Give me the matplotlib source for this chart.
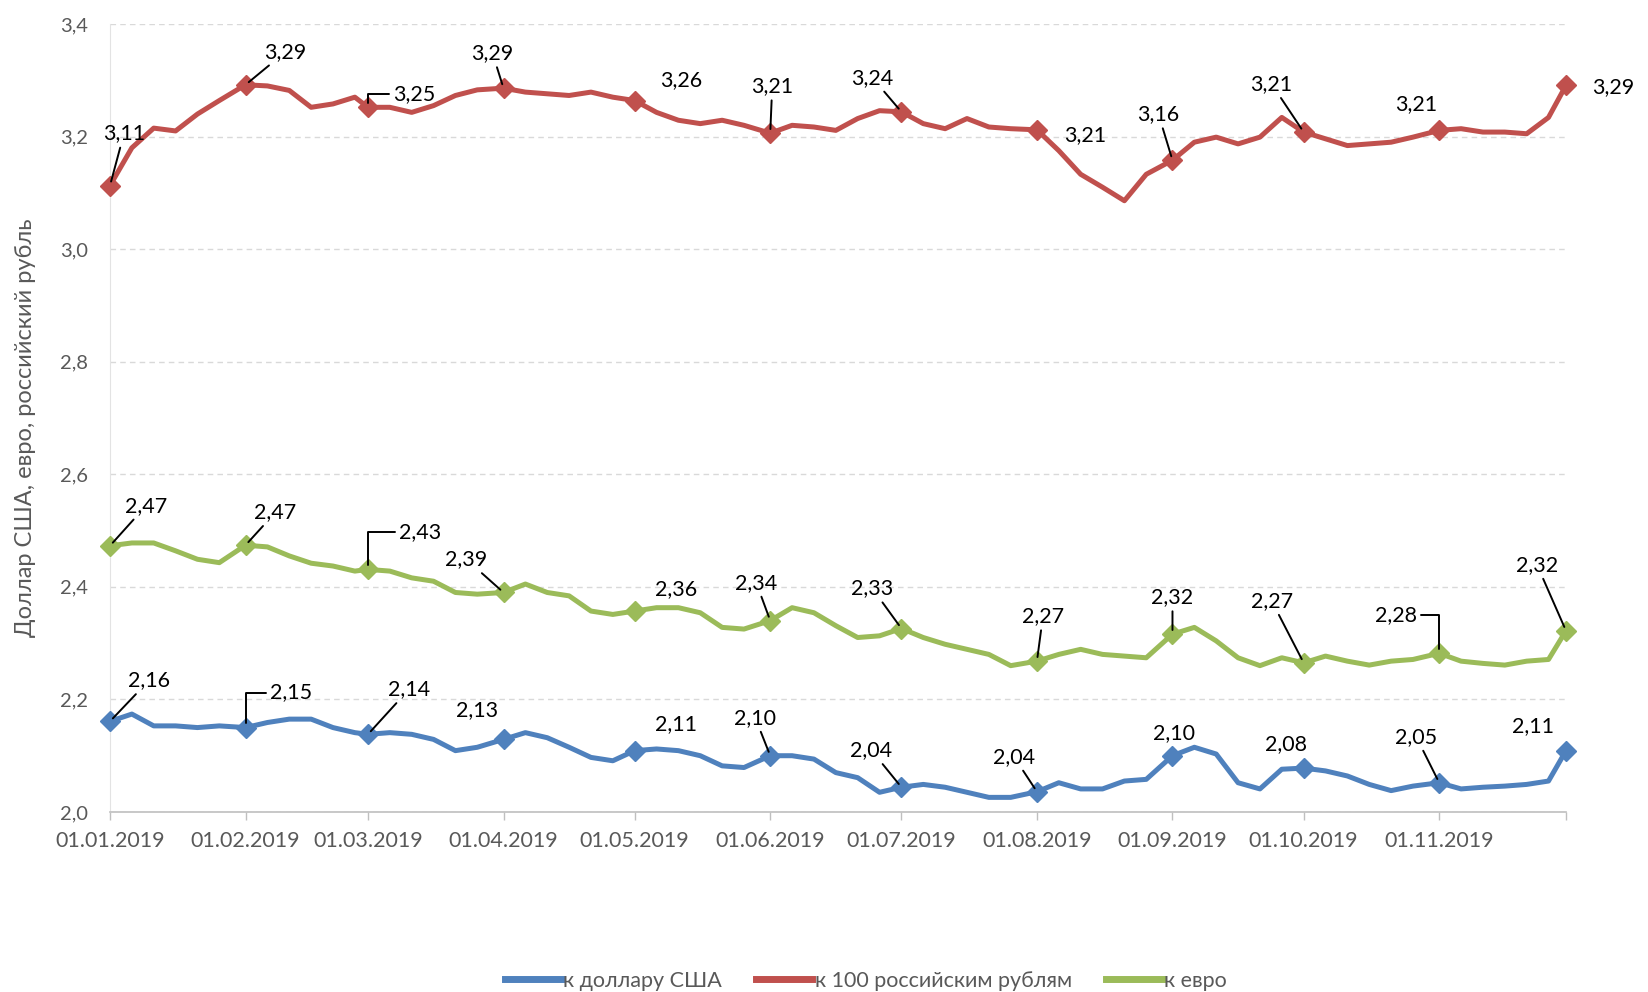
import datetime as dt
import matplotlib
matplotlib.use("Agg")
import matplotlib.pyplot as plt
import matplotlib.dates as mdates
from matplotlib.ticker import FuncFormatter

plt.rcParams['font.family'] = ['Lato', 'DejaVu Sans']

# sample days within each month (Jan..Nov 2019) plus the last day
months = list(range(1, 12))
sample_days = [1, 6, 11, 16, 21, 26]
dates = [dt.date(2019, m, d) for m in months for d in sample_days] + [dt.date(2019, 11, 30)]

usd = [2.161, 2.174, 2.153, 2.153, 2.150, 2.153,
       2.150, 2.159, 2.165, 2.165, 2.150, 2.141,
       2.138, 2.141, 2.138, 2.129, 2.109, 2.115,
       2.129, 2.141, 2.132, 2.115, 2.097, 2.091,
       2.109, 2.112, 2.109, 2.100, 2.082, 2.079,
       2.100, 2.100, 2.094, 2.070, 2.061, 2.035,
       2.044, 2.049, 2.044, 2.035, 2.026, 2.026,
       2.036, 2.052, 2.041, 2.041, 2.055, 2.058,
       2.100, 2.115, 2.103, 2.052, 2.041, 2.076,
       2.078, 2.073, 2.064, 2.049, 2.038, 2.046,
       2.052, 2.041, 2.044, 2.046, 2.049, 2.055,
       2.109]

rub100 = [3.113, 3.180, 3.215, 3.210, 3.240, 3.264,
          3.292, 3.290, 3.282, 3.252, 3.258, 3.270,
          3.252, 3.252, 3.243, 3.255, 3.273, 3.283,
          3.286, 3.279, 3.276, 3.273, 3.279, 3.270,
          3.264, 3.243, 3.229, 3.223, 3.229, 3.220,
          3.206, 3.220, 3.217, 3.211, 3.232, 3.246,
          3.244, 3.223, 3.214, 3.232, 3.217, 3.214,
          3.212, 3.175, 3.133, 3.110, 3.086, 3.133,
          3.158, 3.190, 3.199, 3.187, 3.199, 3.234,
          3.208, 3.196, 3.184, 3.187, 3.190, 3.199,
          3.211, 3.214, 3.208, 3.208, 3.205, 3.234,
          3.291]

eur = [2.473, 2.478, 2.478, 2.464, 2.449, 2.443,
       2.474, 2.471, 2.455, 2.442, 2.437, 2.428,
       2.431, 2.428, 2.416, 2.410, 2.390, 2.387,
       2.390, 2.405, 2.390, 2.384, 2.357, 2.351,
       2.357, 2.363, 2.363, 2.354, 2.328, 2.325,
       2.340, 2.363, 2.354, 2.331, 2.310, 2.313,
       2.326, 2.310, 2.298, 2.289, 2.280, 2.260,
       2.268, 2.280, 2.289, 2.280, 2.277, 2.274,
       2.316, 2.328, 2.304, 2.274, 2.260, 2.274,
       2.265, 2.277, 2.268, 2.261, 2.268, 2.271,
       2.282, 2.268, 2.264, 2.261, 2.268, 2.271,
       2.322]

series_names = ['к доллару США', 'к 100 российским рублям', 'к евро']
colors = ['#4F81BD', '#C0504D', '#9BBB59']
tick_dates = [dt.date(2019, m, 1) for m in months]
marker_idx = [i * len(sample_days) for i in range(len(months))] + [len(dates) - 1]

# label offsets in pixels (dx, dy with dy up) and leader style per marker
usd_labels = [(39, 41, 's'), (46, 35, 'e'), (41, 45, 's'), (-26, 29, None),
              (41, 27, None), (-15, 38, 's'), (-30, 37, 's'), (-23, 35, 's'),
              (2, 23, None), (-18, 24, None), (-23, 46, 's'), (-33, 25, None)]
rub_labels = [(14, 52, 's'), (40, 33, 's'), (46, 13, 'e'), (-11, 35, 's'),
              (46, 20, None), (2, 47, 's'), (-29, 34, 's'), (48, -5, None),
              (-14, 46, 's'), (-32, 48, 's'), (-23, 26, None), (47, -2, None)]
eur_labels = [(36, 40, 's'), (30, 33, 's'), (52, 37, 'e'), (-37, 33, 's'),
              (41, 22, None), (-14, 38, 's'), (-29, 40, 's'), (6, 45, 's'),
              (0, 37, 's'), (-32, 62, 's'), (-43, 38, 'e'), (-29, 66, 's')]


def comma(v, pos=None):
    return f'{v:.1f}'.replace('.', ',')


def main():
    fig = plt.figure(figsize=(16.48, 9.92), dpi=100)
    ax = fig.add_axes([110 / 1648, 1 - 812 / 992, (1566 - 110) / 1648, (812 - 24) / 992])

    all_series = [usd, rub100, eur]
    all_labels = [usd_labels, rub_labels, eur_labels]
    for vals, name, col, labs in zip(all_series, series_names, colors, all_labels):
        ax.plot(dates, vals, color=col, lw=3.6, label=name, solid_joinstyle='round',
                zorder=3, clip_on=False)
        mx = [dates[i] for i in marker_idx]
        my = [vals[i] for i in marker_idx]
        ax.plot(mx, my, ls='none', marker='D', ms=10, color=col, zorder=4, clip_on=False)
        for x, y, (dx, dy, style) in zip(mx, my, labs):
            txt = f'{y:.2f}'.replace('.', ',')
            kw = {}
            if style == 's':
                kw['arrowprops'] = dict(arrowstyle='-', color='black', lw=1.4,
                                        shrinkA=1, shrinkB=3)
            elif style == 'e':
                kw['arrowprops'] = dict(arrowstyle='-', color='black', lw=1.4,
                                        shrinkA=1, shrinkB=3,
                                        connectionstyle='angle,angleA=0,angleB=90,rad=0')
            ax.annotate(txt, xy=(x, y), xytext=(dx, dy), textcoords='offset pixels',
                        ha='center', va='center', fontsize=15.5, color='black', zorder=5, **kw)

    ax.set_ylim(2.0, 3.4)
    ax.set_yticks([2.0, 2.2, 2.4, 2.6, 2.8, 3.0, 3.2, 3.4])
    ax.yaxis.set_major_formatter(FuncFormatter(comma))
    ax.set_xlim(dates[0], dates[-1])
    ax.set_xticks(tick_dates)
    ax.xaxis.set_major_formatter(mdates.DateFormatter('%d.%m.%Y'))
    ax.set_xticks([dates[-1]], minor=True)

    ax.grid(axis='y', color='#D9D9D9', ls=(0, (4, 3)), lw=1.0, zorder=0)
    ax.tick_params(axis='y', length=0, pad=16, labelsize=14.5, labelcolor='#595959')
    ax.tick_params(axis='x', which='both', length=6, width=1, color='#BFBFBF',
                   pad=8, labelsize=15.5, labelcolor='#595959')
    for s in ['top', 'right']:
        ax.spines[s].set_visible(False)
    ax.spines['bottom'].set_color('#BFBFBF')
    ax.spines['bottom'].set_linewidth(1.2)
    ax.spines['left'].set_color('#E3E3E3')

    fig.text(26 / 1648, 1 - 428 / 992, 'Доллар США, евро, российский рубль', rotation=90,
             ha='center', va='center', fontsize=17, color='#595959')

    leg = fig.legend(loc='center', bbox_to_anchor=(866 / 1648, 1 - 981 / 992), ncol=3,
                     frameon=False, fontsize=15.5, handlelength=2.6, handletextpad=0.1,
                     columnspacing=1.6, labelcolor='#595959')
    for h in leg.get_lines():
        h.set_linewidth(5)

    fig.savefig('out.png', dpi=100)


if __name__ == '__main__':
    main()
